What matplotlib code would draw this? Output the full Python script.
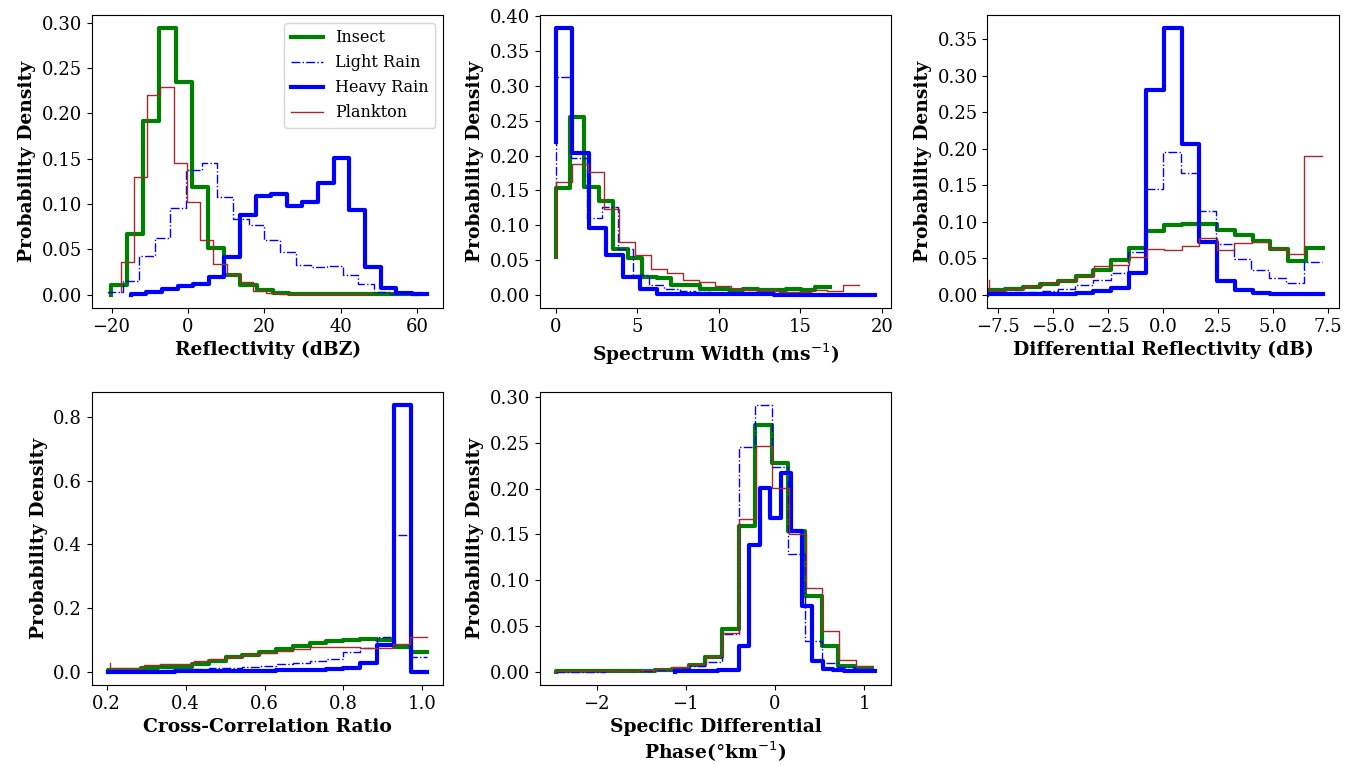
import numpy as np
import matplotlib
matplotlib.use('Agg')
import matplotlib.pyplot as plt
from matplotlib.ticker import MultipleLocator

# Step histograms (density) of radar variables for four echo classes.
# Each series: (first, last) step position and the step levels; the first
# level is where the curve starts before its first step.

# Reflectivity (dBZ)
refl_insect_range = (-20.2, 60.4)
refl_insect = [0.0, 0.011, 0.067, 0.192, 0.294, 0.235, 0.119, 0.051, 0.021, 0.010,
               0.005, 0.002, 0.001, 0.001, 0.001, 0.0005, 0.0005, 0.0005, 0.0003, 0.0003]
refl_light_range = (-21.0, 56.9)
refl_light = [0.002, 0.003, 0.015, 0.043, 0.062, 0.095, 0.138, 0.145, 0.108, 0.083,
              0.077, 0.060, 0.047, 0.033, 0.030, 0.031, 0.022, 0.012, 0.003, 0.001]
refl_heavy_range = (-15.0, 62.7)
refl_heavy = [0.0, 0.0005, 0.003, 0.0066, 0.009, 0.012, 0.019, 0.041, 0.088, 0.109,
              0.111, 0.098, 0.102, 0.123, 0.151, 0.093, 0.030, 0.007, 0.002, 0.001]
refl_plankton_range = (-17.6, 48.2)
refl_plankton = [0.003, 0.036, 0.130, 0.220, 0.229, 0.145, 0.102, 0.060, 0.034, 0.023,
                 0.014, 0.004, 0.002, 0.001, 0.001, 0.001, 0.001, 0.001, 0.001, 0.001]

# Spectrum width (m/s)
sw_insect_range = (0.0, 16.8)
sw_insect = [0.054, 0.153, 0.255, 0.155, 0.134, 0.066, 0.053, 0.025, 0.024, 0.0134,
             0.0134, 0.0086, 0.0086, 0.0072, 0.0086, 0.0062, 0.0072, 0.0086, 0.0062, 0.011]
sw_light_range = (0.0, 18.1)
sw_light = [0.150, 0.313, 0.196, 0.1095, 0.126, 0.066, 0.028, 0.0134, 0.008, 0.005,
            0.003, 0.002, 0.002, 0.001, 0.001, 0.001, 0.0005, 0.0005, 0.0005, 0.0005]
sw_heavy_range = (0.0, 19.6)
sw_heavy = [0.22, 0.383, 0.203, 0.096, 0.057, 0.0255, 0.0077, 0.0015, 0.0008, 0.0005,
            0.0004, 0.0003, 0.0002, 0.0002, 0.0001, 0.0001, 0.0001, 0.0001, 0.0001, 0.0001]
sw_plankton_range = (0.0, 18.6)
sw_plankton = [0.054, 0.162, 0.188, 0.176, 0.123, 0.076, 0.057, 0.0375, 0.031, 0.021,
               0.018, 0.0125, 0.0086, 0.0062, 0.0062, 0.0038, 0.0038, 0.0062, 0.0048, 0.0144]

# Differential reflectivity (dB)
zdr_insect_range = (-8.0, 7.27)
zdr_insect = [0.0, 0.006, 0.007, 0.010, 0.014, 0.018, 0.026, 0.033, 0.047, 0.064,
              0.087, 0.095, 0.097, 0.097, 0.088, 0.081, 0.074, 0.062, 0.046, 0.064]
zdr_light_range = (-8.0, 7.2)
zdr_light = [0.0, 0.002, 0.003, 0.004, 0.005, 0.008, 0.013, 0.020, 0.030, 0.058,
             0.144, 0.195, 0.167, 0.114, 0.069, 0.049, 0.033, 0.023, 0.016, 0.045]
zdr_heavy_range = (-8.0, 7.27)
zdr_heavy = [0.0, 0.0003, 0.0003, 0.0005, 0.0007, 0.001, 0.002, 0.005, 0.009, 0.029,
             0.281, 0.365, 0.206, 0.072, 0.018, 0.006, 0.0014, 0.0005, 0.0003, 0.0003]
zdr_plankton_range = (-7.92, 7.2)
zdr_plankton = [0.020, 0.006, 0.008, 0.012, 0.016, 0.020, 0.026, 0.039, 0.040, 0.051,
                0.063, 0.061, 0.066, 0.077, 0.061, 0.070, 0.072, 0.063, 0.056, 0.190]

# Cross-correlation ratio
rho_insect_range = (0.2025, 1.013)
rho_insect = [0.0, 0.005, 0.005, 0.010, 0.015, 0.016, 0.024, 0.034, 0.045, 0.053,
              0.063, 0.071, 0.082, 0.089, 0.095, 0.100, 0.102, 0.100, 0.076, 0.063]
rho_light_range = (0.2025, 1.013)
rho_light = [0.0, 0.001, 0.002, 0.003, 0.004, 0.006, 0.008, 0.010, 0.012, 0.015,
             0.019, 0.024, 0.028, 0.033, 0.040, 0.061, 0.075, 0.110, 0.430, 0.047]
rho_heavy_range = (0.2025, 1.013)
rho_heavy = [0.0, 0.0, 0.0, 0.0005, 0.0005, 0.001, 0.001, 0.0015, 0.002, 0.0025,
             0.003, 0.004, 0.005, 0.006, 0.008, 0.010, 0.026, 0.084, 0.837, 0.0005]
rho_plankton_range = (0.209, 1.011)
rho_plankton = [0.027, 0.010, 0.010, 0.021, 0.023, 0.025, 0.032, 0.039, 0.046, 0.053,
                0.060, 0.066, 0.071, 0.079, 0.079, 0.076, 0.075, 0.073, 0.087, 0.108]

# Specific differential phase (deg/km)
kdp_insect_range = (-2.46, 1.084)
kdp_insect = [0.0, 0.0003, 0.0003, 0.0003, 0.0003, 0.0005, 0.001, 0.002, 0.003, 0.007,
              0.016, 0.047, 0.159, 0.270, 0.228, 0.154, 0.083, 0.028, 0.0065, 0.004]
kdp_light_range = (-2.46, 1.084)
kdp_light = [0.0, 0.0, 0.0, 0.0, 0.0005, 0.0005, 0.001, 0.002, 0.003, 0.006,
             0.011, 0.041, 0.246, 0.291, 0.224, 0.129, 0.033, 0.010, 0.005, 0.003]
kdp_heavy_range = (-1.116, 1.126)
kdp_heavy = [0.0, 0.001, 0.001, 0.001, 0.001, 0.002, 0.002, 0.028, 0.139, 0.201,
             0.168, 0.217, 0.154, 0.072, 0.012, 0.003, 0.002, 0.001, 0.001, 0.001]
kdp_plankton_range = (-2.455, 1.09)
kdp_plankton = [0.0, 0.0005, 0.0005, 0.0005, 0.001, 0.001, 0.002, 0.003, 0.005, 0.008,
                0.017, 0.042, 0.167, 0.247, 0.201, 0.151, 0.092, 0.045, 0.0127, 0.0065]

classes = ['Insect', 'Light Rain', 'Heavy Rain', 'Plankton']
styles = {
    'Insect': dict(color='green', lw=3, ls='-'),
    'Light Rain': dict(color='blue', lw=1, ls='-.'),
    'Heavy Rain': dict(color='blue', lw=3, ls='-'),
    'Plankton': dict(color='brown', lw=1, ls='-'),
}

panels = [
    ('Reflectivity (dBZ)',
     [(refl_insect_range, refl_insect), (refl_light_range, refl_light),
      (refl_heavy_range, refl_heavy), (refl_plankton_range, refl_plankton)]),
    ('Spectrum Width (ms$^{-1}$)',
     [(sw_insect_range, sw_insect), (sw_light_range, sw_light),
      (sw_heavy_range, sw_heavy), (sw_plankton_range, sw_plankton)]),
    ('Differential Reflectivity (dB)',
     [(zdr_insect_range, zdr_insect), (zdr_light_range, zdr_light),
      (zdr_heavy_range, zdr_heavy), (zdr_plankton_range, zdr_plankton)]),
    ('Cross-Correlation Ratio',
     [(rho_insect_range, rho_insect), (rho_light_range, rho_light),
      (rho_heavy_range, rho_heavy), (rho_plankton_range, rho_plankton)]),
    ('Specific Differential\nPhase($\\degree$km$^{-1}$)',
     [(kdp_insect_range, kdp_insect), (kdp_light_range, kdp_light),
      (kdp_heavy_range, kdp_heavy), (kdp_plankton_range, kdp_plankton)]),
]

# tick spacing per panel (x, y)
tick_steps = [(20, 0.05), (5, 0.05), (2.5, 0.05), (0.2, 0.2), (1, 0.05)]

plt.rcParams['font.family'] = 'serif'
plt.rcParams['font.size'] = 13

fig, axes = plt.subplots(2, 3, figsize=(13.45, 7.65), dpi=100)
fig.subplots_adjust(left=0.0682, right=0.9957, top=0.9804, bottom=0.1046,
                    wspace=0.2734, hspace=0.288)
axes = axes.ravel()

for ax, (xlabel, series), (dx, dy) in zip(axes, panels, tick_steps):
    for name, (rng, levels) in zip(classes, series):
        edges = np.linspace(rng[0], rng[1], len(levels))
        ax.step(edges, levels, where='pre', label=name, **styles[name])
    ax.set_xlabel(xlabel, fontweight='bold', fontsize=13.5)
    ax.set_ylabel('Probability Density', fontweight='bold', fontsize=13.5)
    ax.xaxis.set_major_locator(MultipleLocator(dx))
    ax.yaxis.set_major_locator(MultipleLocator(dy))

axes[2].set_xlim(-8, 8)
axes[0].legend(loc='upper right', fontsize=11.5)
axes[5].remove()

fig.savefig('out.png', dpi=100)
